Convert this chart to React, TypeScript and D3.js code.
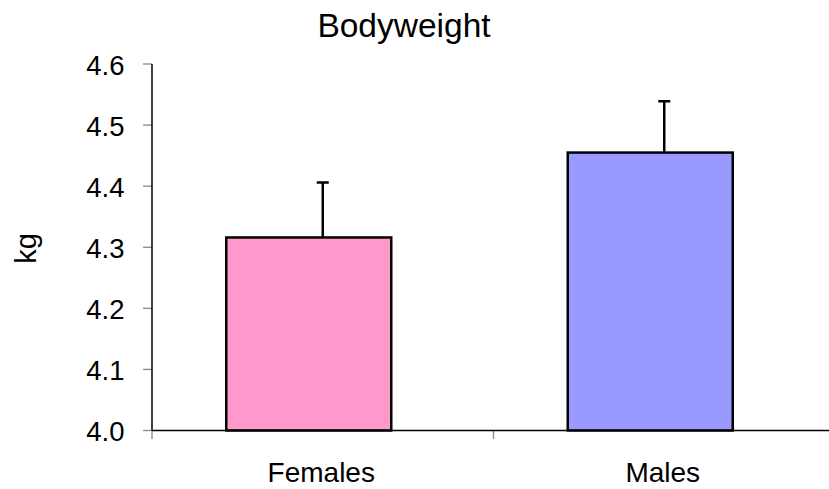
import React from "react";
import * as d3 from "d3";

const categories = ["Females", "Males"];
const means = [4.316, 4.455];
const errors = [0.09, 0.084];
const colors = ["#FF99CC", "#9999FF"];
const yTicks = [4.0, 4.1, 4.2, 4.3, 4.4, 4.5, 4.6];

export default function App() {
  const W = 829, H = 489;
  const left = 152, right = 835, top = 64, bottom = 430.5;
  const x = d3.scaleBand<string>().domain(categories).range([left, right]);
  const y = d3.scaleLinear().domain([4.0, 4.6]).range([bottom, top]);
  const barW = 165;
  const barOffset = -14;
  const font = "Liberation Sans, Arial, sans-serif";
  return (
    <svg width={W} height={H} style={{ position: "absolute", left: 0, top: 0 }} fontFamily={font}>
      <rect width={W} height={H} fill="#fff" />
      <text x={404} y={36.5} fontSize={33.5} textAnchor="middle">Bodyweight</text>
      <text transform={`translate(36,${248.5}) rotate(-90)`} fontSize={29} textAnchor="middle">kg</text>
      {yTicks.map((t) => (
        <g key={t}>
          <line x1={143} x2={left} y1={y(t)} y2={y(t)} stroke="#888" strokeWidth={1.3} />
          <text x={124.5} y={y(t) + 10.5} fontSize={27.5} textAnchor="end">{t.toFixed(1)}</text>
        </g>
      ))}
      {categories.map((c, i) => {
        const cx = x(c)! + x.bandwidth() / 2;
        const bx = cx - barW / 2 + barOffset;
        return (
          <g key={c}>
            <rect x={bx} y={y(means[i])} width={barW} height={bottom - y(means[i])} fill={colors[i]} stroke="#000" strokeWidth={2.5} />
            <line x1={cx} x2={cx} y1={y(means[i])} y2={y(means[i] + errors[i])} stroke="#000" strokeWidth={2.5} />
            <line x1={cx - 6} x2={cx + 6} y1={y(means[i] + errors[i])} y2={y(means[i] + errors[i])} stroke="#000" strokeWidth={2.5} />
            <text x={cx - 1.5} y={481.7} fontSize={28} textAnchor="middle">{c}</text>
          </g>
        );
      })}
      {[left, x(categories[1])!].map((t, i) => (
        <line key={i} x1={t} x2={t} y1={bottom} y2={439} stroke="#888" strokeWidth={1.3} />
      ))}
      <line x1={left} x2={left} y1={top} y2={bottom} stroke="#000" strokeWidth={1.5} />
      <line x1={left} x2={right} y1={bottom} y2={bottom} stroke="#000" strokeWidth={1.5} />
    </svg>
  );
}
